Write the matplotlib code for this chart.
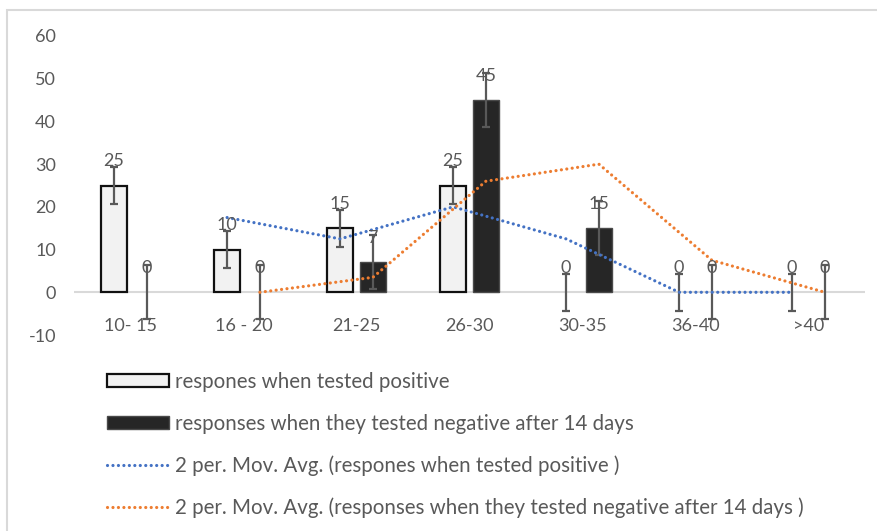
import matplotlib
matplotlib.use("Agg")
import matplotlib.pyplot as plt
from matplotlib.patches import Patch, Rectangle
from matplotlib.lines import Line2D
import numpy as np

categories = ["10- 15", "16 - 20", "21-25", "26-30", "30-35", "36-40", ">40"]
positive = [25, 10, 15, 25, 0, 0, 0]
negative = [0, 0, 7, 45, 15, 0, 0]
pos_err = 4.3
neg_err = 6.3
pos_ma = [17.5, 12.5, 20, 12.5, 0, 0]   # from 2nd category on
neg_ma = [0, 3.5, 26, 30, 7.5, 0]
label_pos = "respones when tested positive"
label_neg = "responses when they tested negative after 14 days"
label_pos_ma = "2 per. Mov. Avg. (respones when tested positive )"
label_neg_ma = "2 per. Mov. Avg. (responses when they tested negative after 14 days )"
yticks = [-10, 0, 10, 20, 30, 40, 50, 60]

FONT = "Lato"
TXT = "#595959"
plt.rcParams["font.family"] = [FONT, "DejaVu Sans"]
plt.rcParams["axes.unicode_minus"] = False

W, H = 878, 531
fig = plt.figure(figsize=(W / 100, H / 100), dpi=100)

# chart border
fig.patches.append(Rectangle((7 / W, -0.1), 1.2, 1 - 10 / H + 0.1, transform=fig.transFigure,
                             fill=False, edgecolor="#d9d9d9", linewidth=1.5))

left, right, top, bottom = 74, 865, 36, 335
ax = fig.add_axes([left / W, 1 - bottom / H, (right - left) / W, (bottom - top) / H])
ax.set_xlim(-0.5, len(categories) - 0.5)
ax.set_ylim(-10, 60)

x = np.arange(len(categories))
off = 0.145
bw = 0.235
xp = x - off
xn = x + off

ax.bar(xp, positive, bw, color="#f2f2f2", edgecolor="#111111",
       linewidth=[1.6 if v else 0 for v in positive], zorder=2)
ax.bar(xn, negative, bw, color="#262626", edgecolor="#4a4a4a",
       linewidth=[1.0 if v else 0 for v in negative], zorder=2)

ax.errorbar(xp, positive, yerr=pos_err, fmt="none", ecolor="#595959", elinewidth=1.6,
            capsize=3.2, capthick=1.6, zorder=4)
ax.errorbar(xn, negative, yerr=neg_err, fmt="none", ecolor="#595959", elinewidth=1.6,
            capsize=3.2, capthick=1.6, zorder=4)

DOT = (0, (0.01, 1.7))
ax.plot(xp[1:], pos_ma, color="#4472c4", linewidth=2.3, linestyle=DOT,
        dash_capstyle="round", zorder=5)
ax.plot(xn[1:], neg_ma, color="#ed7d31", linewidth=2.3, linestyle=DOT,
        dash_capstyle="round", zorder=5)

for xs, vals in ((xp, positive), (xn, negative)):
    for xi, v in zip(xs, vals):
        ax.annotate(str(v), (xi, v), xytext=(0, 17.5), textcoords="offset points",
                    ha="center", va="center", fontsize=13, color=TXT, zorder=6)

ax.axhline(0, color="#d9d9d9", linewidth=1.5, zorder=1)
for s in ax.spines.values():
    s.set_visible(False)
ax.set_yticks(yticks)
ax.tick_params(axis="y", length=0, pad=13, labelsize=13, labelcolor=TXT)
ax.set_xticks([])
for xi, c in zip(x, categories):
    ax.annotate(c, (xi, 0), xytext=(0, -24), textcoords="offset points",
                ha="center", va="center", fontsize=13, color=TXT)

handles = [
    Patch(facecolor="#f2f2f2", edgecolor="#111111", linewidth=1.6),
    Patch(facecolor="#262626", edgecolor="#4a4a4a", linewidth=1.0),
    Line2D([], [], color="#4472c4", linewidth=2.3, linestyle=DOT, dash_capstyle="round"),
    Line2D([], [], color="#ed7d31", linewidth=2.3, linestyle=DOT, dash_capstyle="round"),
]
labels = [label_pos, label_neg, label_pos_ma, label_neg_ma]
leg = fig.legend(handles, labels, loc="upper left", bbox_to_anchor=(107 / W, 1 - 372 / H),
                 frameon=False, fontsize=14.8, handlelength=3.0, handleheight=0.63,
                 handletextpad=0.33, labelspacing=1.05, borderpad=0, borderaxespad=0)
for t in leg.get_texts():
    t.set_color(TXT)

fig.savefig("out.png", dpi=100)
